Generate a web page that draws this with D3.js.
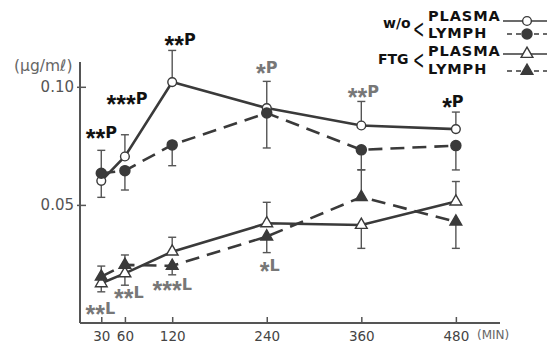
<!DOCTYPE html>
<html lang="en">
<head>
    <meta charset="UTF-8">
    <title>Plasma / Lymph concentration</title>
    <script src="https://d3js.org/d3.v7.min.js"></script>
    <style>
        body { margin: 0; background: #fff; }
        text { font-family: "DejaVu Sans", sans-serif; }
    </style>
</head>
<body>
    <div id="chart"></div>

    <script>
        // Data
        const minutes = [30, 60, 120, 240, 360, 480];
        const woPlasma = [0.0602, 0.0705, 0.102, 0.091, 0.0836, 0.0821];
        const woPlasmaSD = [0.007, 0.0092, 0.0134, 0.0113, 0.0102, 0.0072];
        const woLymph = [0.0634, 0.0645, 0.0754, 0.0889, 0.0733, 0.0751];
        const woLymphSD = [0.0097, 0.0082, 0.0088, 0.0148, 0.0085, 0.0103];
        const ftgPlasma = [0.0168, 0.021, 0.0302, 0.0422, 0.0415, 0.0514];
        const ftgPlasmaSD = [0.0036, 0.005, 0.0061, 0.0089, 0.0099, 0.0085];
        const ftgLymph = [0.0196, 0.0246, 0.0242, 0.0366, 0.0533, 0.0429];
        const ftgLymphSD = [0.0045, 0.0042, 0.0038, 0.0068, 0.0116, 0.0113];

        const yTicks = [0.05, 0.10];
        const yTickLabels = ["0.05", "0.10"];
        const pLabels = ["**P", "***P", "**P", "*P", "**P", "*P"];
        const lLabels = ["**L", "**L", "***L", "*L"];

        const svgWidth = 558, svgHeight = 343;
        const svg = d3.select("#chart").append("svg")
            .attr("width", svgWidth)
            .attr("height", svgHeight);

        const x = d3.scaleLinear().domain([3, 536]).range([80, 500]);
        const y = d3.scaleLinear().domain([0, 0.1105]).range([323, 62]);
        const ink = "#3a3a3a";

        // axes
        const yAxis = svg.append("g")
            .attr("transform", "translate(80,0)")
            .call(d3.axisLeft(y).tickValues(yTicks).tickSize(-6)
                .tickFormat((d, i) => yTickLabels[i]).tickPadding(6));
        yAxis.select(".domain").remove();
        yAxis.append("line").attr("y1", 62).attr("y2", 323).attr("stroke", "#555").attr("stroke-width", 2);
        yAxis.selectAll(".tick line").attr("stroke", "#555").attr("stroke-width", 1.5).attr("x1", -3);
        yAxis.selectAll(".tick text").attr("fill", "#555").style("font-size", "15px")
            .style("font-family", "DejaVu Sans");

        const xAxis = svg.append("g")
            .attr("transform", "translate(0,323)")
            .call(d3.axisBottom(x).tickValues(minutes).tickSize(-6).tickPadding(8));
        xAxis.select(".domain").remove();
        xAxis.append("line").attr("x1", 80).attr("x2", 500).attr("stroke", "#555").attr("stroke-width", 2);
        xAxis.selectAll(".tick line").attr("stroke", "#555").attr("stroke-width", 1.5);
        xAxis.selectAll(".tick text").attr("fill", "#444").style("font-size", "13.5px")
            .style("font-family", "DejaVu Sans");

        svg.append("text").attr("x", 477).attr("y", 339).text("(MIN)")
            .attr("fill", "#666").style("font-size", "12px");
        svg.append("text").attr("x", 14).attr("y", 71).text("(μg/mℓ)")
            .attr("fill", "#666").style("font-size", "15.5px");

        // series
        const series = [
            { name: "PLASMA", vals: woPlasma, sd: woPlasmaSD, side: [-1, 1, 1, 1, 1, 1], dash: null, shape: "circle", filled: false },
            { name: "LYMPH", vals: woLymph, sd: woLymphSD, side: [1, -1, -1, -1, -1, -1], dash: "14,8", shape: "circle", filled: true },
            { name: "PLASMA", vals: ftgPlasma, sd: ftgPlasmaSD, side: [-1, -1, 1, 1, -1, 1], dash: null, shape: "triangle", filled: false },
            { name: "LYMPH", vals: ftgLymph, sd: ftgLymphSD, side: [1, 1, -1, -1, 1, -1], dash: "14,8", shape: "triangle", filled: true }
        ];

        // error bars
        series.forEach(s => {
            const g = svg.append("g").attr("stroke", "#555").attr("stroke-width", 1.4);
            minutes.forEach((m, i) => {
                const yEnd = y(s.vals[i] + s.side[i] * s.sd[i]);
                g.append("line").attr("x1", x(m)).attr("x2", x(m))
                    .attr("y1", y(s.vals[i])).attr("y2", yEnd);
                g.append("line").attr("x1", x(m) - 4).attr("x2", x(m) + 4)
                    .attr("y1", yEnd).attr("y2", yEnd);
            });
        });

        const line = d3.line().x((d, i) => x(minutes[i])).y(d => y(d));
        series.forEach(s => {
            svg.append("path").datum(s.vals)
                .attr("d", line)
                .attr("fill", "none")
                .attr("stroke", ink)
                .attr("stroke-width", 2.6)
                .attr("stroke-dasharray", s.dash);
        });

        function marker(g, s, cx, cy) {
            const sym = s.shape === "circle" ? d3.symbolCircle : d3.symbolTriangle;
            const size = s.shape === "circle" ? (s.filled ? 80 : 60) : 60;
            g.append("path")
                .attr("d", d3.symbol().type(sym).size(size))
                .attr("transform", `translate(${cx},${cy})`)
                .attr("fill", s.filled ? ink : "#fff")
                .attr("stroke", ink)
                .attr("stroke-width", 1.4);
        }

        series.forEach(s => {
            const g = svg.append("g");
            s.vals.forEach((v, i) => marker(g, s, x(minutes[i]), y(v)));
        });

        // significance labels
        function starLabel(txt, cx, by, color) {
            const stars = txt.replace(/[A-Z]/g, "");
            const letter = txt.replace(/\*/g, "");
            const t = svg.append("text").attr("x", cx).attr("y", by)
                .attr("text-anchor", "middle").attr("fill", color)
                .style("font-weight", "bold");
            t.append("tspan").text(stars).style("font-size", "25px")
                .style("font-family", "Liberation Sans").attr("dy", 9);
            t.append("tspan").text(letter).style("font-size", "16px").attr("dy", -9);
        }

        const pOff = [[0, -43], [2, -52], [8, -37], [0, -35], [2, -29], [-3, -22]];
        const pColor = ["#111", "#111", "#111", "#777", "#777", "#111"];
        pLabels.forEach((l, i) => starLabel(l, x(minutes[i]) + pOff[i][0], y(woPlasma[i]) + pOff[i][1], pColor[i]));

        const lOff = [[-1, 31], [4, 25], [0, 38], [3, 48]];
        lLabels.forEach((l, i) => starLabel(l, x(minutes[i]) + lOff[i][0], y(ftgPlasma[i]) + lOff[i][1], "#777"));

        // legend
        const leg = svg.append("g").style("font-weight", "bold").attr("fill", "#111");
        leg.append("text").attr("x", 383).attr("y", 28).text("w/o").style("font-size", "14px");
        leg.append("text").attr("x", 378).attr("y", 64).text("FTG").style("font-size", "14px");
        [38, 69].forEach(by => {
            leg.append("text").attr("transform", `translate(413,${by}) scale(0.5,1)`)
                .text("<").style("font-size", "27px").style("font-weight", "normal");
        });
        const rowY = [21, 38, 56, 74];
        const lineY = [21, 34, 54, 71];
        series.forEach((s, i) => {
            leg.append("text").attr("x", 428).attr("y", rowY[i]).text(s.name)
                .style("font-size", "14.5px").style("letter-spacing", "0.9px");
            leg.append("line").attr("x1", s.dash ? 507 : 503).attr("x2", 547)
                .attr("y1", lineY[i]).attr("y2", lineY[i])
                .attr("stroke", ink).attr("stroke-width", 1.6)
                .attr("stroke-dasharray", s.dash ? "5,4" : null);
            marker(leg, s, 527, lineY[i]);
        });
    </script>
</body>
</html>
